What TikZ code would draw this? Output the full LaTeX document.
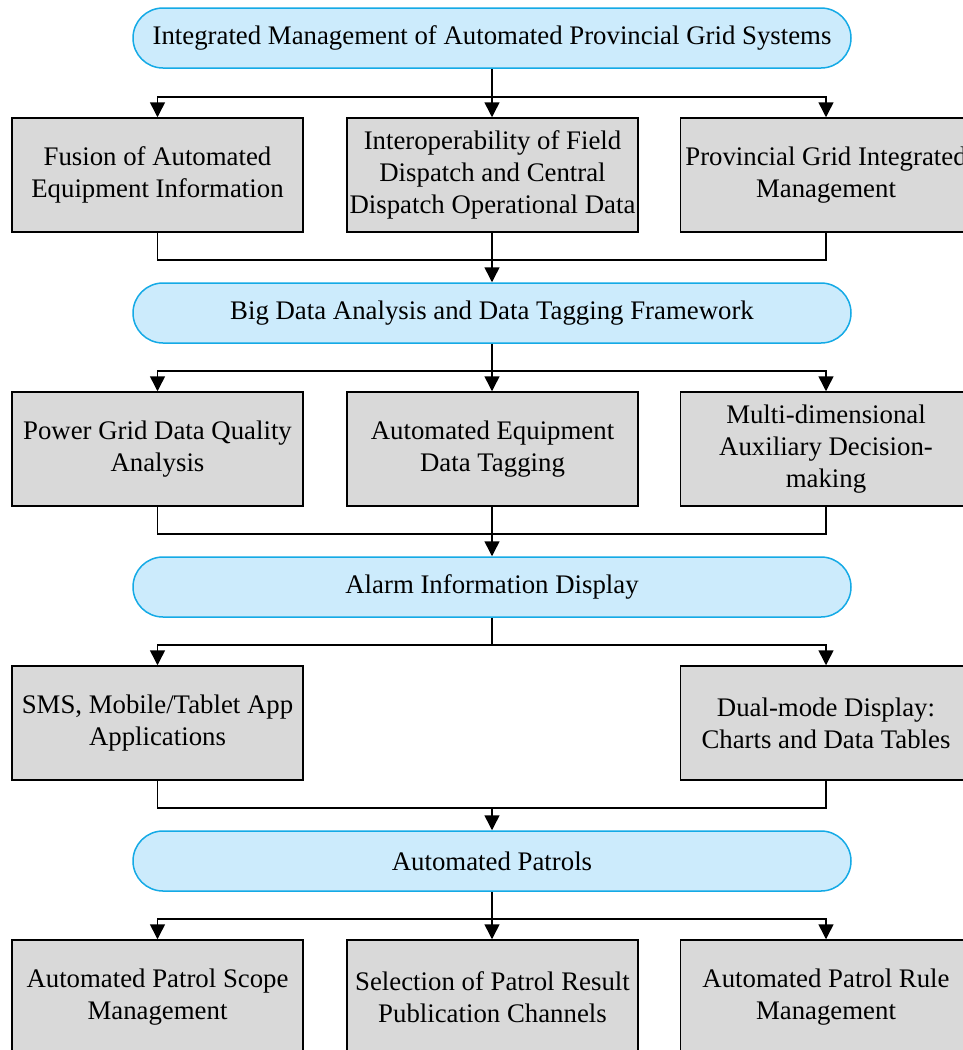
\documentclass[tikz,border=0pt]{standalone}
\usepackage{fontspec}
\setmainfont{Liberation Serif}
\usetikzlibrary{arrows.meta}
\definecolor{pillfill}{RGB}{204,235,252}
\definecolor{pillline}{RGB}{20,170,230}
\definecolor{boxfill}{RGB}{217,217,217}
\begin{document}
\begin{tikzpicture}[x=1pt,y=-1pt,
  txt/.style={font=\fontsize{26.8}{32}\selectfont},
  pill/.style={txt, draw=pillline, fill=pillfill, line width=1.5pt, rounded corners=30pt,
    minimum width=718pt, minimum height=60pt, inner sep=0pt},
  gbox/.style={txt, draw=black, fill=boxfill, line width=1.5pt, minimum width=291pt,
    minimum height=114pt, inner sep=0pt, align=center},
  conn/.style={line width=1.5pt},
  arr/.style={conn, -{Triangle[length=15pt,width=15pt]}}]
\useasboundingbox (0,0) rectangle (962,1050);
\fill[white] (0,0) rectangle (962,1050);

% pills
\node[pill] (p1) at (492,38) {\raisebox{-2pt}{Integrated Management of Automated Provincial Grid Systems}};
\node[pill] (p2) at (492,313) {\raisebox{-2pt}{Big Data Analysis and Data Tagging Framework}};
\node[pill] (p3) at (492,587) {\raisebox{-2pt}{Alarm Information Display}};
\node[pill] (p4) at (492,861) {\raisebox{-2pt}{Automated Patrols}};

% row 1
\node[gbox] (b11) at (157.5,175) {Fusion of Automated\\Equipment Information};
\node[gbox] (b12) at (492.5,175) {Interoperability of Field\\Dispatch and Central\\Dispatch Operational Data};
\node[gbox] (b13) at (826,175) {Provincial Grid Integrated\\Management};
% row 2
\node[gbox] (b21) at (157.5,449) {Power Grid Data Quality\\Analysis};
\node[gbox] (b22) at (492.5,449) {Automated Equipment\\Data Tagging};
\node[gbox] (b23) at (826,449) {Multi-dimensional\\Auxiliary Decision-\\making};
% row 3
\node[gbox] (b31) at (157.5,723) {SMS, Mobile/Tablet App\\Applications};
\node[gbox] (b33) at (826,723) {Dual-mode Display:\\Charts and Data Tables};
% row 4
\node[gbox] (b41) at (157.5,997) {Automated Patrol Scope\\Management};
\node[gbox] (b42) at (492.5,997) {Selection of Patrol Result\\Publication Channels};
\node[gbox] (b43) at (826,997) {Automated Patrol Rule\\Management};

% split / join coordinates
\coordinate (s1) at (492,97);
\coordinate (j1) at (492,260);
\coordinate (s2) at (492,371);
\coordinate (j2) at (492,534);
\coordinate (s3) at (492,645);
\coordinate (j3) at (492,808);
\coordinate (s4) at (492,919);

% level 1
\draw[arr] (p1.south) -- (p1.south |- b12.north);
\draw[arr] (s1) -| (b11.north);
\draw[arr] (s1) -| (b13.north);
\draw[conn] (b11.south) |- (j1) -| (b13.south);
\draw[arr] (b12.south -| p2.north) -- (p2.north);
% level 2
\draw[arr] (p2.south) -- (p2.south |- b22.north);
\draw[arr] (s2) -| (b21.north);
\draw[arr] (s2) -| (b23.north);
\draw[conn] (b21.south) |- (j2) -| (b23.south);
\draw[arr] (b22.south -| p3.north) -- (p3.north);
% level 3
\draw[conn] (p3.south) -- (s3);
\draw[arr] (s3) -| (b31.north);
\draw[arr] (s3) -| (b33.north);
\draw[conn] (b31.south) |- (j3) -| (b33.south);
\draw[arr] (j3) -- (p4.north);
% level 4
\draw[arr] (p4.south) -- (p4.south |- b42.north);
\draw[arr] (s4) -| (b41.north);
\draw[arr] (s4) -| (b43.north);
\end{tikzpicture}
\end{document}
